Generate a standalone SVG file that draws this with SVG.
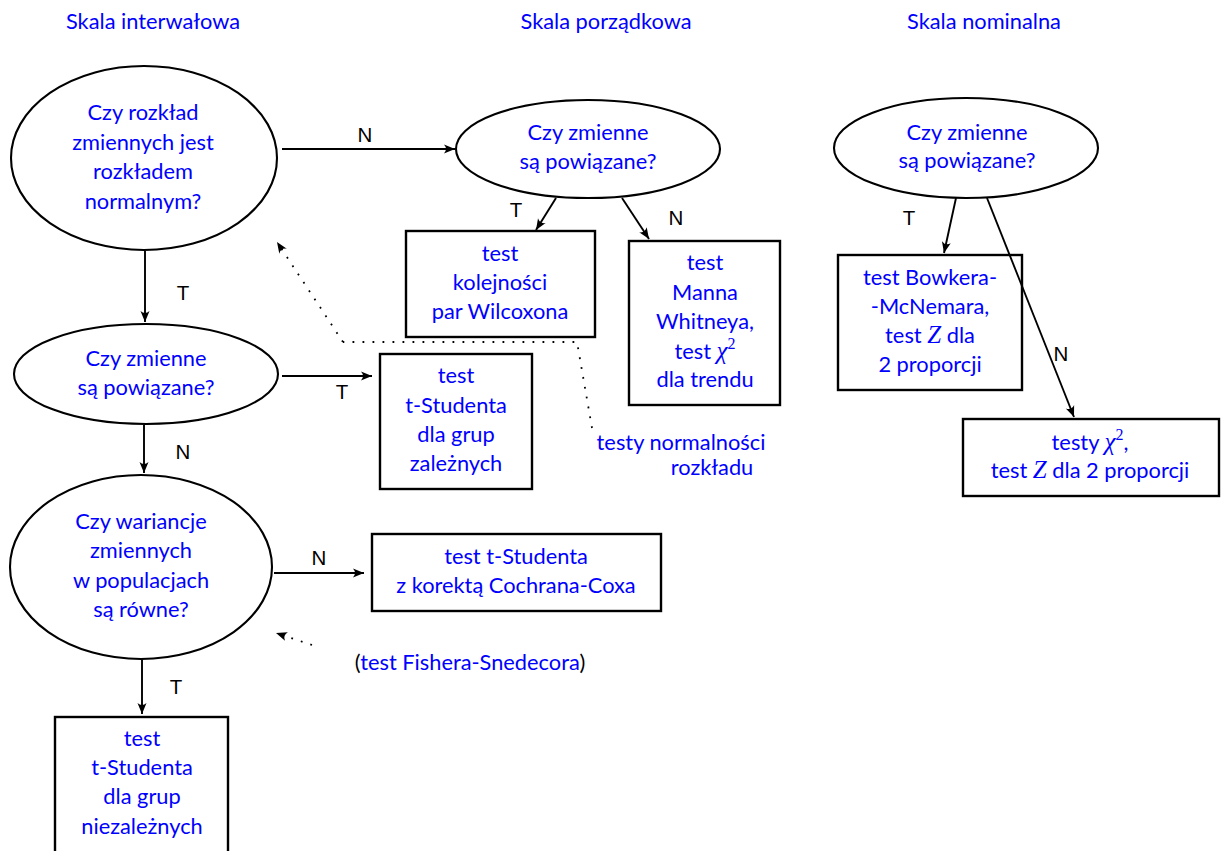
<svg xmlns="http://www.w3.org/2000/svg" width="1221" height="851" viewBox="0 0 1221 851">
  <style>
    .bg { fill: #ffffff; }
    .shape { fill: none; stroke: #000; stroke-width: 2.1; }
    .box { fill: none; stroke: #000; stroke-width: 2.4; }
    .txt { font-family: Lato, "Noto Sans", sans-serif; font-size: 21.8px; fill: #0000ff; text-anchor: middle; }
    .title { font-family: Lato, "Noto Sans", sans-serif; font-size: 21.8px; fill: #0000ff; text-anchor: middle; }
    .lbl { font-family: "Liberation Sans", Arial, sans-serif; font-size: 20.5px; fill: #000; text-anchor: middle; }
    .math { font-family: "Liberation Serif", "DejaVu Serif", serif; font-style: italic; font-size: 25px; }
    .sup { font-family: "Liberation Serif", "DejaVu Serif", serif; font-size: 16px; font-style: normal; }
    .edge { fill: none; stroke: #000; stroke-width: 1.9; marker-end: url(#arrow); }
    .dots { fill: none; stroke: #000; stroke-width: 1.8; stroke-dasharray: 1.8 8.2; }
    .paren { fill: #000; }
  </style>
  <defs>
    <marker id="arrow" viewBox="-12 -6 13 12" refX="0" refY="0" markerWidth="13" markerHeight="12" markerUnits="userSpaceOnUse" orient="auto">
      <path d="M0,0 L-11,-4.5 Q-7,0 -11,4.5 Z" fill="#000"/>
    </marker>
  </defs>
  <rect class="bg" x="0" y="0" width="1221" height="851"/>

  <!-- column headings -->
  <g id="headings">
    <text class="title" x="153" y="29">Skala interwałowa</text>
    <text class="title" x="606" y="29">Skala porządkowa</text>
    <text class="title" x="984" y="29">Skala nominalna</text>
  </g>

  <!-- interval scale -->
  <g id="q-normal">
    <ellipse class="shape" cx="144" cy="158" rx="133" ry="92"/>
    <text class="txt" x="143" y="120">Czy rozkład</text>
    <text class="txt" x="143" y="150">zmiennych jest</text>
    <text class="txt" x="143" y="179">rozkładem</text>
    <text class="txt" x="143" y="209">normalnym?</text>
  </g>
  <g id="q-related-int">
    <ellipse class="shape" cx="146" cy="374" rx="132" ry="50"/>
    <text class="txt" x="146" y="366">Czy zmienne</text>
    <text class="txt" x="146" y="395">są powiązane?</text>
  </g>
  <g id="t-dependent">
    <rect class="box" x="380" y="354" width="152" height="135"/>
    <text class="txt" x="456" y="383">test</text>
    <text class="txt" x="456" y="413">t-Studenta</text>
    <text class="txt" x="456" y="442">dla grup</text>
    <text class="txt" x="456" y="471">zależnych</text>
  </g>
  <g id="q-variances">
    <ellipse class="shape" cx="141" cy="567" rx="131" ry="92"/>
    <text class="txt" x="141" y="529">Czy wariancje</text>
    <text class="txt" x="141" y="558">zmiennych</text>
    <text class="txt" x="141" y="588">w populacjach</text>
    <text class="txt" x="141" y="617">są równe?</text>
  </g>
  <g id="t-cochran">
    <rect class="box" x="372" y="534" width="289" height="77"/>
    <text class="txt" x="516" y="564">test t-Studenta</text>
    <text class="txt" x="516" y="593">z korektą Cochrana-Coxa</text>
  </g>
  <g id="t-independent">
    <rect class="box" x="55" y="717" width="173" height="140"/>
    <text class="txt" x="142" y="746">test</text>
    <text class="txt" x="142" y="775">t-Studenta</text>
    <text class="txt" x="142" y="804">dla grup</text>
    <text class="txt" x="142" y="834">niezależnych</text>
  </g>
  <g id="note-normality">
    <text class="txt" x="681" y="450">testy normalności</text>
    <text class="txt" x="712" y="475">rozkładu</text>
  </g>
  <g id="note-fisher">
    <text class="txt" x="470" y="670"><tspan class="paren">(</tspan>test Fishera-Snedecora<tspan class="paren">)</tspan></text>
  </g>

  <!-- ordinal scale -->
  <g id="q-related-ord">
    <ellipse class="shape" cx="588" cy="149" rx="132" ry="49"/>
    <text class="txt" x="588" y="140">Czy zmienne</text>
    <text class="txt" x="588" y="169">są powiązane?</text>
  </g>
  <g id="t-wilcoxon">
    <rect class="box" x="406" y="231" width="189" height="106"/>
    <text class="txt" x="500" y="261">test</text>
    <text class="txt" x="500" y="290">kolejności</text>
    <text class="txt" x="500" y="319">par Wilcoxona</text>
  </g>
  <g id="t-mann-whitney">
    <rect class="box" x="629" y="241" width="151" height="164"/>
    <text class="txt" x="705" y="270">test</text>
    <text class="txt" x="705" y="300">Manna</text>
    <text class="txt" x="705" y="329">Whitneya,</text>
    <text class="txt" x="705" y="359">test <tspan class="math">χ</tspan><tspan class="sup" dy="-10">2</tspan></text>
    <text class="txt" x="705" y="387">dla trendu</text>
  </g>

  <!-- nominal scale -->
  <g id="q-related-nom">
    <ellipse class="shape" cx="966" cy="148" rx="132" ry="50"/>
    <text class="txt" x="967" y="140">Czy zmienne</text>
    <text class="txt" x="967" y="168">są powiązane?</text>
  </g>
  <g id="t-bowker">
    <rect class="box" x="838" y="255" width="184" height="135"/>
    <text class="txt" x="930" y="285">test Bowkera-</text>
    <text class="txt" x="930" y="314">-McNemara,</text>
    <text class="txt" x="930" y="343">test <tspan class="math">Z</tspan> dla</text>
    <text class="txt" x="930" y="372">2 proporcji</text>
  </g>
  <g id="t-chi2">
    <rect class="box" x="963" y="419" width="256" height="77"/>
    <text class="txt" x="1090" y="450">testy <tspan class="math">χ</tspan><tspan class="sup" dy="-10">2</tspan><tspan dy="10">,</tspan></text>
    <text class="txt" x="1090" y="478">test <tspan class="math">Z</tspan> dla 2 proporcji</text>
  </g>

  <!-- connectors -->
  <g id="connectors">
    <path class="edge" d="M282,149 L455,149"/>
    <path class="edge" d="M145,251 L145,322"/>
    <path class="edge" d="M282,376 L372,376"/>
    <path class="edge" d="M144,425 L144,473"/>
    <path class="edge" d="M274,573 L364,573"/>
    <path class="edge" d="M142,659 L142,714"/>
    <path class="edge" d="M556,198 L536,230"/>
    <path class="edge" d="M622,198 L649,239"/>
    <path class="edge" d="M956,198 L944,253"/>
    <path class="edge" d="M987,198 L1074,417"/>
    <path class="dots" d="M592,428 L577,342 L343,342"/>
    <path class="dots" d="M343,342 L277,242" marker-end="url(#arrow)"/>
    <path class="dots" d="M312,645 L276,633" marker-end="url(#arrow)"/>
    <g id="edge-labels">
      <text class="lbl" x="365" y="142">N</text>
      <text class="lbl" x="183" y="300">T</text>
      <text class="lbl" x="342" y="399">T</text>
      <text class="lbl" x="183" y="459">N</text>
      <text class="lbl" x="319" y="565">N</text>
      <text class="lbl" x="176" y="694">T</text>
      <text class="lbl" x="516" y="217">T</text>
      <text class="lbl" x="676" y="225">N</text>
      <text class="lbl" x="909" y="225">T</text>
      <text class="lbl" x="1061" y="361">N</text>
    </g>
  </g>
</svg>
